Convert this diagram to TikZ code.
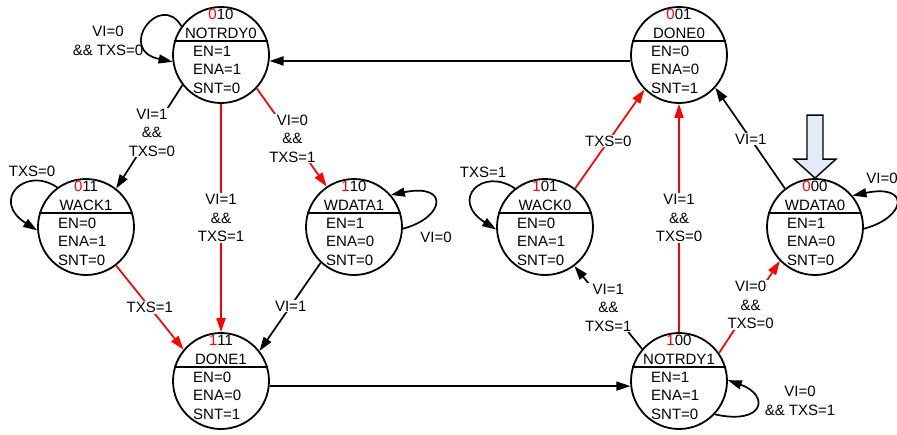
\documentclass[tikz,border=0pt]{standalone}
\usepackage{fontspec}
\setmainfont{Liberation Sans}
\usepackage{tikz}
\usetikzlibrary{calc}
\usetikzlibrary{arrows.meta}
\definecolor{startblue}{RGB}{228,235,246}
\newcommand{\fsmfont}{\fontsize{15}{18.5}\selectfont}
\tikzstyle{statebox}=[circle,draw=black,line width=1.8pt,minimum size=96pt,inner sep=0pt]
\tikzstyle{statetext}=[inner sep=0pt,font=\fsmfont]
\tikzstyle{divider}=[line width=1.8pt]
\tikzstyle{edgepath}=[-{Triangle[length=14pt,width=9pt]},line width=1.7pt]
\tikzstyle{edgelabel}=[fill=white,text=black,align=center,inner sep=1pt,font=\fsmfont]
\tikzstyle{looplabel}=[align=center,inner sep=0pt,font=\fsmfont]
\tikzstyle{startarrow}=[draw=black,line width=1.4pt,fill=startblue]

% name, position, red bit, other bits, label, EN, ENA, SNT
\newcommand{\fsmstate}[8]{%
  \node[statebox] (#1) at (#2) {};
  \node[statetext,anchor=base] (#1-code) at ($(#1)+(0,-36)$) {\textcolor{red}{#3}#4};
  \node[statetext,anchor=base] (#1-name) at ($(#1)+(0,-17)$) {#5};
  \draw[divider] ($(#1)+(-47,-14)$) -- ($(#1)+(47,-14)$);
  \node[statetext,anchor=base west] (#1-en) at ($(#1)+(-28,1)$) {EN=#6};
  \node[statetext,anchor=base west] (#1-ena) at ($(#1)+(-28,19.5)$) {ENA=#7};
  \node[statetext,anchor=base west] (#1-snt) at ($(#1)+(-28,38)$) {SNT=#8};
}

\begin{document}
\begin{tikzpicture}[x=1pt,y=-1pt]
    \useasboundingbox (0,0) rectangle (897,434);

    \fsmstate{NOTRDY0}{221,55}{0}{10}{NOTRDY0}{1}{1}{0}
    \fsmstate{DONE0}{679,55}{0}{01}{DONE0}{0}{0}{1}
    \fsmstate{WACK1}{86,227}{0}{11}{WACK1}{0}{1}{0}
    \fsmstate{WDATA1}{354,227}{1}{10}{WDATA1}{1}{0}{0}
    \fsmstate{WACK0}{545,227}{1}{01}{WACK0}{0}{1}{0}
    \fsmstate{WDATA0}{815,227}{0}{00}{WDATA0}{1}{0}{0}
    \fsmstate{DONE1}{221,381}{1}{11}{DONE1}{0}{0}{1}
    \fsmstate{NOTRDY1}{679,381}{1}{00}{NOTRDY1}{1}{1}{0}

    % start arrow
    \draw[startarrow] ($(WDATA0.north)+(-8,-63)$) -- ($(WDATA0.north)+(8,-63)$)
        -- ($(WDATA0.north)+(8,-19)$) -- ($(WDATA0.north)+(21,-19)$)
        -- (WDATA0.north) -- ($(WDATA0.north)+(-21,-19)$)
        -- ($(WDATA0.north)+(-8,-19)$) -- cycle;

    % self loops
    \draw[edgepath] (NOTRDY0.144) .. controls +(-21,-36) and +(-57,-12) .. (NOTRDY0.188);
    \draw[edgepath] (WACK1.126) .. controls +(-32,-22) and +(-47,-30) .. (WACK1.184);
    \draw[edgepath] (WACK0.128) .. controls +(-32,-22) and +(-47,-30) .. (WACK0.183);
    \draw[edgepath] (WDATA1.-2) .. controls +(42,-11) and +(59,-12) .. (WDATA1.41);
    \draw[edgepath] (WDATA0.-2) .. controls +(42,-11) and +(59,-12) .. (WDATA0.40);
    \draw[edgepath] (NOTRDY1.-43) .. controls +(50,11) and +(42,15) .. (NOTRDY1.1);

    \node[looplabel] (NOTRDY0-loop) at ($(NOTRDY0)+(-113,-14)$) {VI=0\\\&\& TXS=0};
    \node[looplabel] (WACK1-loop) at ($(WACK1)+(-54,-56)$) {TXS=0};
    \node[looplabel] (WACK0-loop) at ($(WACK0)+(-62,-55)$) {TXS=1};
    \node[looplabel] (WDATA1-loop) at ($(WDATA1)+(82,10)$) {VI=0};
    \node[looplabel] (WDATA0-loop) at ($(WDATA0)+(67,-49)$) {VI=0};
    \node[looplabel] (NOTRDY1-loop) at ($(NOTRDY1)+(121,20)$) {VI=0\\\&\& TXS=1};

    % transitions
    \path[edgepath]
        (DONE0.187) edge (NOTRDY0.-7)
        (DONE1.-6) edge (NOTRDY1.186)
        (NOTRDY0.218) edge node[edgelabel,pos=0.46] {VI=1\\\&\&\\TXS=0} (WACK1.52)
        (WDATA1.227) edge node[edgelabel,pos=0.49] {VI=1} (DONE1.38)
        (NOTRDY1.139) edge node[edgelabel,pos=0.5] {VI=1\\\&\&\\TXS=1} (WACK0.-53)
        (WDATA0.128) edge node[edgelabel,pos=0.49] {VI=1} (DONE0.-42);

    \path[edgepath,red]
        (NOTRDY0.south) edge node[edgelabel] {VI=1\\\&\&\\TXS=1} (DONE1.north)
        (NOTRDY0.-43) edge node[edgelabel,pos=0.51] {VI=0\\\&\&\\TXS=1} (WDATA1.124)
        (WACK1.-52) edge node[edgelabel,pos=0.5] {TXS=1} (DONE1.140)
        (NOTRDY1.north) edge node[edgelabel] {VI=1\\\&\&\\TXS=0} (DONE0.south)
        (NOTRDY1.35) edge node[edgelabel,pos=0.52] {VI=0\\\&\&\\TXS=0} (WDATA0.224)
        (WACK0.52) edge node[edgelabel,pos=0.48] {TXS=0} (DONE0.225);
\end{tikzpicture}
\end{document}
